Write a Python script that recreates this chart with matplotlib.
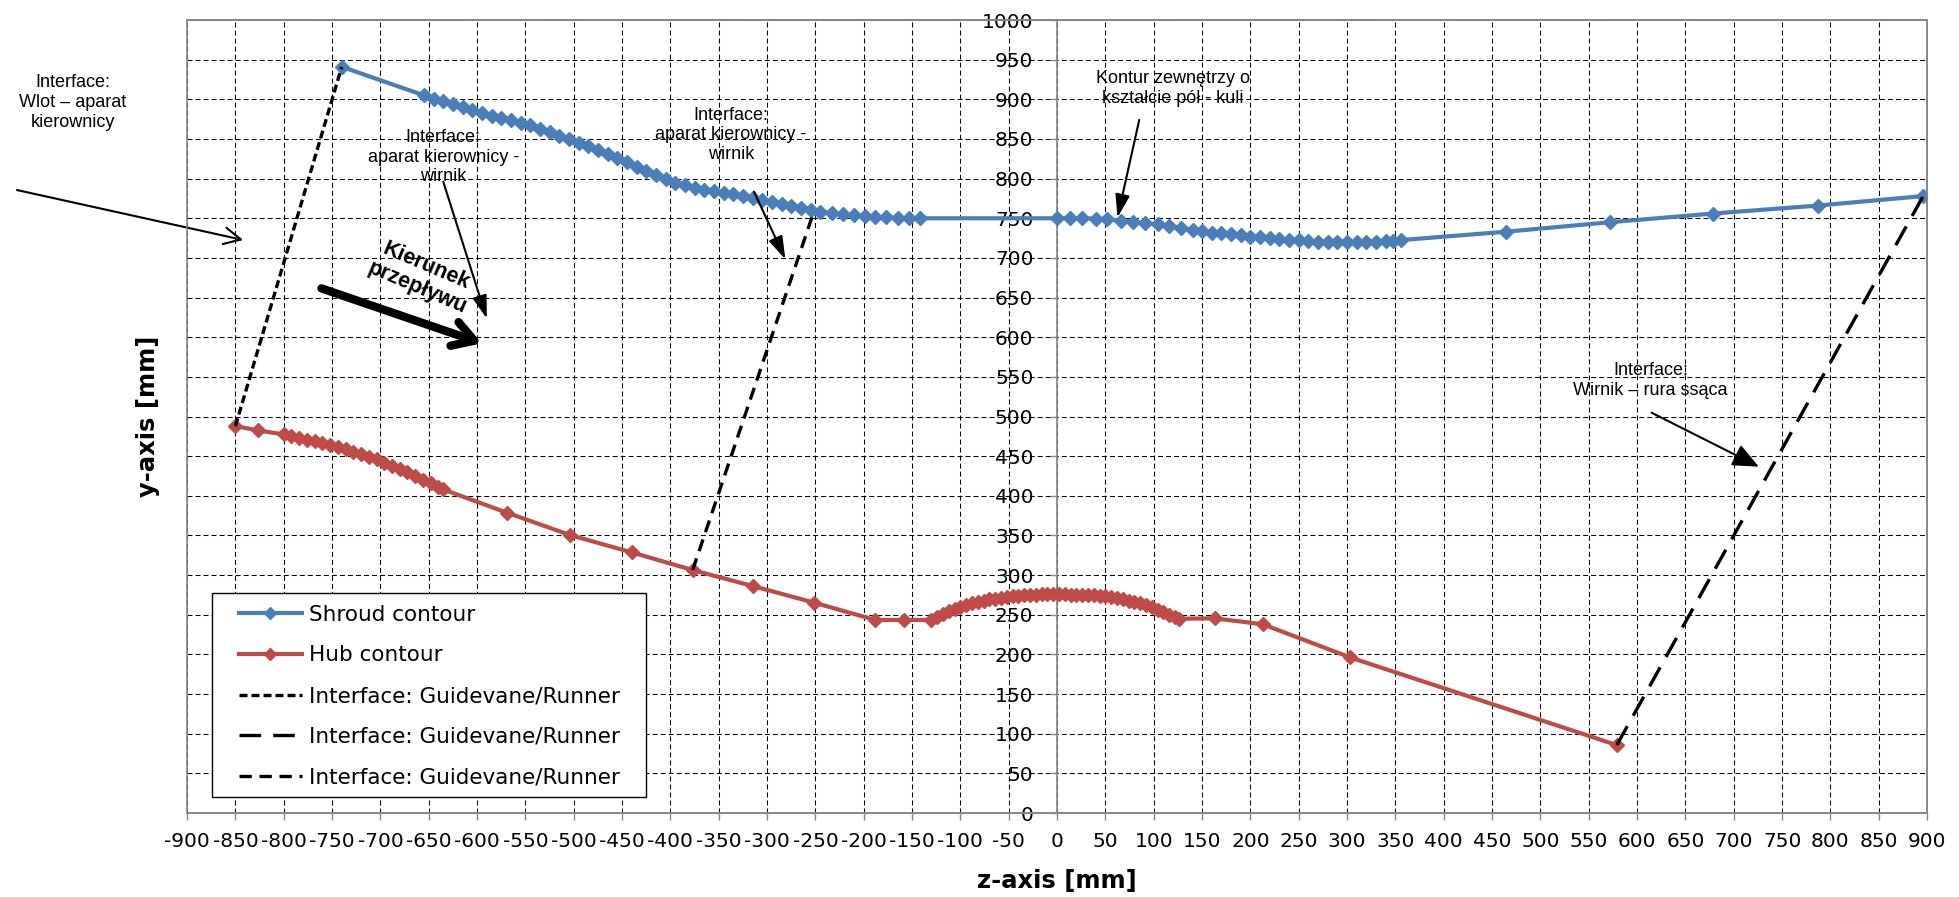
import matplotlib
matplotlib.use('Agg')
import matplotlib.pyplot as plt
from matplotlib.patches import Rectangle

plt.rcParams['axes.unicode_minus'] = False

# shroud (outer) contour, z / y in mm
shroud_z = [-740,
            -655, -645, -635, -625, -615, -605, -595, -585, -575, -565,
            -555, -545, -535, -525, -515, -505, -495, -485, -475, -465,
            -455, -445, -435, -425, -415, -405, -395, -385, -375, -365,
            -355, -345, -335, -325, -315, -305, -295, -285, -275, -265,
            -255, -245, -233, -221, -210, -199, -188, -177, -165, -153, -142,
            0, 13, 26, 40, 52, 66, 79, 91, 104, 116, 128, 141,
            150, 160, 170, 180, 190, 200, 210, 220, 230, 240, 250, 260,
            270, 280, 290, 300, 310, 320, 330, 340, 348, 356,
            464, 572, 679, 787, 896]
shroud_y = [941,
            905, 901, 897.5, 894, 890, 886, 882.5, 879.5, 876.5, 873.5,
            870.5, 867, 863, 858.5, 854, 850, 845.5, 841, 836, 831,
            825.5, 820.5, 815, 809.5, 804, 799, 795, 791.5, 788.5, 786,
            784, 782, 780, 778, 775.5, 773, 771, 768.5, 766, 763.5,
            761, 758.5, 756.5, 755, 753.5, 752.5, 751.5, 751, 750.5, 750, 750,
            750, 750, 750, 749.5, 749, 747, 745.5, 744, 742.5, 740.5, 738, 735.5,
            733.5, 732, 731, 730, 728.5, 727, 726, 725, 724, 723, 722, 721,
            720.5, 720, 719.5, 719.5, 719.5, 720, 720.5, 721, 721.5, 722.5,
            733, 745, 756, 766, 778]

# hub (inner) contour
hub_z = [-850, -827,
         -800, -792, -784, -776, -768, -760, -752, -744, -736, -728, -720,
         -712, -704, -696, -688, -680, -672, -664, -656, -648, -640, -635,
         -569, -504, -440, -377, -315, -251, -188, -158,
         -130, -124, -118, -112, -106, -100, -94, -88, -82, -76, -70, -64,
         -58, -52, -46, -40, -34, -28, -22, -16, -10, -4, 2, 8, 14, 20, 26,
         32, 38, 44, 50, 56, 62, 68, 74, 80, 86, 92, 98, 104, 110, 116, 122, 126,
         163, 213, 303, 579]
hub_y = [488, 482.5,
         477.5, 475.5, 473.5, 471, 469, 466.5, 464, 461.5, 458.5, 455.5, 452.5,
         449.5, 446, 442, 438, 434, 429.5, 425, 420.5, 416, 411.5, 408,
         378.7, 350.6, 328.7, 306.4, 286.3, 265.2, 243.4, 243.4,
         243.5, 247.5, 251, 254.5, 257.5, 260, 262.5, 264.5, 266.5, 268, 269.5, 270.5,
         271.5, 272.5, 273.5, 274, 274.5, 275, 275.5, 276, 276, 276, 276, 276, 275.5, 275.5, 275,
         275, 274.5, 274, 273.5, 272.5, 271, 269.5, 268, 266.5, 264.5, 262, 259.5, 256.5, 253.5, 250, 247, 245,
         245.5, 238, 196.3, 85.7]

# interfaces between domains
iface_inlet_z = [-850, -740]
iface_inlet_y = [488, 941]
iface_draft_z = [579, 896]
iface_draft_y = [85.7, 778]
iface_runner_z = [-377, -252]
iface_runner_y = [306.4, 757]

legend_labels = ['Shroud contour', 'Hub contour', 'Interface: Guidevane/Runner',
                 'Interface: Guidevane/Runner', 'Interface: Guidevane/Runner']

fig = plt.figure(figsize=(19.59, 8.97), dpi=100)
ax = fig.add_axes([0.0955, 0.0936, 0.8882, 0.8841])

blue = '#4A7EBB'
red = '#BE4B48'
frame_col = '#868686'

ax.plot(shroud_z, shroud_y, color=blue, lw=3, marker='D', ms=7.5, mec=blue, mfc=blue,
        label=legend_labels[0], zorder=3)
ax.plot(hub_z, hub_y, color=red, lw=3, marker='D', ms=7.5, mec=red, mfc=red,
        label=legend_labels[1], zorder=3)
ax.plot(iface_inlet_z, iface_inlet_y, color='black', lw=2.4, linestyle=(0, (2.4, 1.2)),
        label=legend_labels[2], zorder=4)
ax.plot(iface_draft_z, iface_draft_y, color='black', lw=2.4, linestyle=(0, (6.5, 3.6)),
        label=legend_labels[3], zorder=4)
ax.plot(iface_runner_z, iface_runner_y, color='black', lw=2.4, linestyle=(0, (3.7, 2.3)),
        label=legend_labels[4], zorder=4)

ax.set_xlim(-900, 900)
ax.set_ylim(0, 1000)
ax.set_xticks(range(-900, 901, 50))
ax.set_yticks(range(0, 1001, 50))
ax.grid(True, color='black', linestyle=(0, (4.8, 2.9)), linewidth=0.75)
ax.set_axisbelow(True)

# y axis sits at z = 0, plot area framed in grey
ax.spines['left'].set_position(('data', 0))
for s in ax.spines.values():
    s.set_color(frame_col)
    s.set_linewidth(1.2)
ax.add_patch(Rectangle((0, 0), 1, 1, transform=ax.transAxes, fill=False,
                       ec=frame_col, lw=1.2, clip_on=False, zorder=6))

ax.tick_params(axis='both', direction='out', length=5, width=1, color=frame_col,
               labelsize=14.5)
ax.tick_params(axis='y', pad=12)
ax.tick_params(axis='x', pad=9)

ax.set_ylabel('y-axis [mm]', fontsize=17.5, fontweight='bold')
ax.yaxis.set_label_coords(-0.0155, 0.5)
ax.set_xlabel('z-axis [mm]', fontsize=17.5, fontweight='bold')
ax.xaxis.set_label_coords(0.5, -0.07)

# legend with its own box
ax.add_patch(Rectangle((0.0144, 0.0198), 0.2494, 0.258, transform=ax.transAxes,
                       fc='white', ec='black', lw=1, zorder=4))
ax.legend(loc='upper left', bbox_to_anchor=(0.0299, 0.2626), frameon=False,
          borderpad=0, borderaxespad=0, handlelength=2.9, handletextpad=0.35,
          labelspacing=0.96, fontsize=15.5, markerscale=0.75)

# annotations
fnt = dict(family=['Liberation Sans', 'DejaVu Sans'], fontsize=13,
           ha='center', va='center', multialignment='center')
thin = dict(arrowstyle='-|>,head_length=0.7,head_width=0.22', color='black',
            lw=1.5, shrinkA=0, shrinkB=0, mutation_scale=20)

ax.text(-1018, 896, 'Interface:\nWlot \u2013 aparat\nkierownicy', **fnt)
ax.annotate('', xy=(-842, 722.6), xytext=(-1076, 785.6), annotation_clip=False,
            arrowprops=dict(arrowstyle='->,head_length=0.6,head_width=0.3', color='black',
                            lw=1.5, shrinkA=0, shrinkB=0, mutation_scale=20))

ax.text(-635, 827, 'Interface:\naparat kierownicy -\nwirnik', **fnt)
ax.annotate('', xy=(-590, 623.6), xytext=(-635, 796), arrowprops=thin)

ax.text(-337.6, 855, 'Interface:\naparat kierownicy -\nwirnik', **fnt)
ax.annotate('', xy=(-281, 698.2), xytext=(-313.5, 783.5), arrowprops=thin)

ax.text(120, 914, 'Kontur zewn\u0119trzy o\nkszta\u0142cie p\u00f3\u0142 - kuli', **fnt)
ax.annotate('', xy=(62.5, 751), xytext=(85, 874), arrowprops=thin)

ax.text(614, 545.5, 'Interface:\nWirnik \u2013 rura ss\u0105ca', **fnt)
ax.annotate('', xy=(726, 436.7), xytext=(615, 504.8),
            arrowprops=dict(thin, arrowstyle='-|>,head_length=0.8,head_width=0.35'))

ax.text(-657, 676, 'Kierunek\nprzep\u0142ywu', rotation=-23, rotation_mode='anchor',
        family=['Liberation Sans', 'DejaVu Sans'], fontsize=15.5, fontweight='bold',
        ha='center', va='center', multialignment='center')
ax.annotate('', xy=(-595, 592.3), xytext=(-761, 661.6),
            arrowprops=dict(arrowstyle='->,head_length=0.75,head_width=0.45', color='black',
                            lw=6, shrinkA=0, shrinkB=0, mutation_scale=20))

fig.savefig('out.png', dpi=100)
